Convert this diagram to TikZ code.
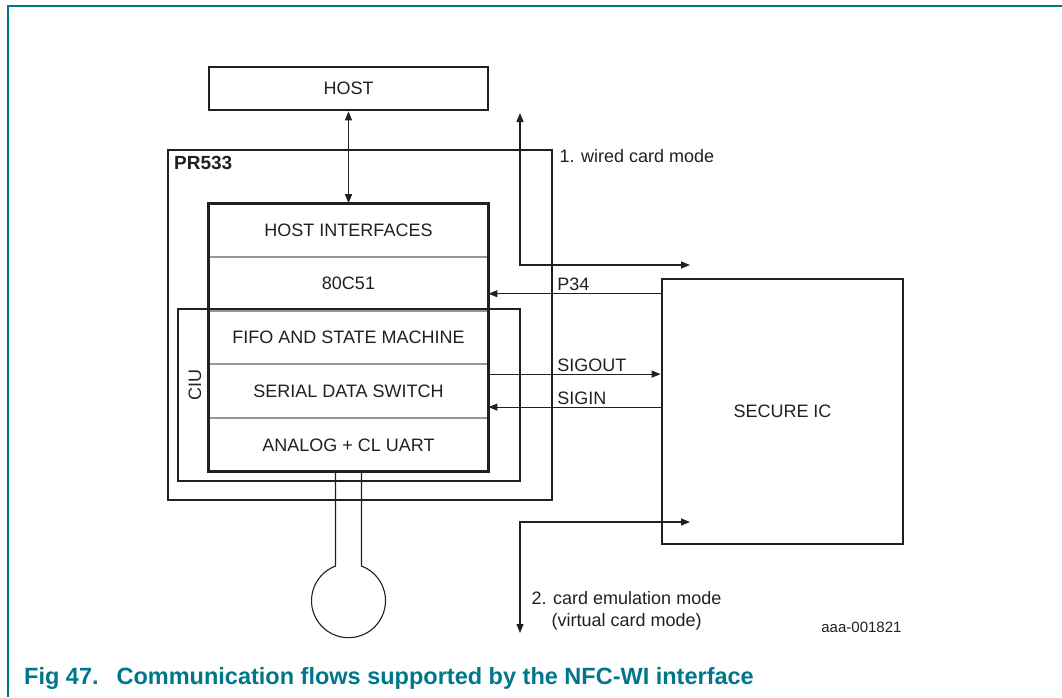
\documentclass[tikz,border=0pt]{standalone}
\usepackage{fontspec}
\setmainfont{Liberation Sans}
\usetikzlibrary{arrows.meta,positioning}
\definecolor{ink}{RGB}{35,31,32}
\definecolor{nxpteal}{RGB}{0,118,139}
\definecolor{divider}{RGB}{150,150,150}

\begin{document}
\begin{tikzpicture}[x=1pt,y=1pt,>={Triangle[length=9pt,width=7pt]},
    every node/.style={font=\fontsize{18}{22}\selectfont, text=ink},
    frame/.style={rectangle, draw=ink, line width=2.8pt, inner sep=0pt},
    row/.style={rectangle, draw=divider, line width=0.9pt, minimum width=279pt, minimum height=52.8pt, inner sep=0pt},
    wire/.style={draw=ink, line width=1.1pt},
    arrow/.style={wire, ->},
    both/.style={wire, <->}]

    \useasboundingbox (0,0) rectangle (1062,-697);

    % Page frame
    \draw[nxpteal, line width=1.6pt] (8,-697) -- (8,-6) -- (1062,-6);

    % Host
    \node[frame, minimum width=279pt, minimum height=43pt] (host) at (348.5,-88.5) {HOST};

    % PR533
    \node[frame, minimum width=384pt, minimum height=350pt] (pr) at (360,-325) {};
    \node[anchor=north west, font=\fontsize{19}{22}\selectfont\bfseries] (prlabel) at ([xshift=4pt,yshift=-4pt]pr.north west) {PR533};

    % Block stack
    \node[row] (hostif) at (348.5,-230) {HOST INTERFACES};
    \node[row, below=0pt of hostif] (mcu) {80C51};
    \node[row, below=0pt of mcu] (fifo) {FIFO AND STATE MACHINE};
    \node[row, below=0pt of fifo] (serial) {SERIAL DATA SWITCH};
    \node[row, below=0pt of serial] (analog) {ANALOG + CL UART};
    \draw[frame] (hostif.north west) rectangle (analog.south east);

    % CIU
    \node[frame, minimum width=342pt, minimum height=172pt] (ciu) at (349,-395) {};
    \node[rotate=90] (ciulabel) at (195,-385) {CIU};

    % Secure IC
    \node[frame, minimum width=241pt, minimum height=265pt] (secure) at (782.5,-411.5) {SECURE IC};

    % Host link
    \draw[both] (host) -- (hostif);

    % Wired card mode
    \coordinate (wiredtop) at (520,-113);
    \coordinate (wiredend) at (690,-265);
    \draw[both] (wiredtop) |- (wiredend);
    \node[anchor=west] (wiredlabel) at (556,-156) {1. wired card mode};

    % Signals
    \draw[arrow] ([yshift=-10pt]mcu.east -| secure.west) -- ([yshift=-10pt]mcu.east)
        node[pos=0.615, anchor=south west, inner sep=2pt] {P34};
    \draw[arrow] ([yshift=17pt]serial.east) -- ([yshift=17pt]serial.east -| secure.west)
        node[pos=0.385, anchor=south west, inner sep=2pt] {SIGOUT};
    \draw[arrow] ([yshift=-16pt]serial.east -| secure.west) -- ([yshift=-16pt]serial.east)
        node[pos=0.615, anchor=south west, inner sep=2pt] {SIGIN};

    % Card emulation mode
    \coordinate (emuend) at (690,-522);
    \coordinate (emubottom) at (520,-633);
    \draw[both] (emuend) -| (emubottom);
    \node[anchor=north west, align=left] (emulabel) at (528,-588) {2. card emulation mode\\\hphantom{2.~}(virtual card mode)};
    \node[anchor=east, font=\fontsize{15}{16}\selectfont] (figid) at (905,-627) {aaa-001821};

    % Antenna
    \draw[wire] ([xshift=-13pt]analog.south) -- ++(0,-94.4)
        arc[start angle=110.6, end angle=429.4, radius=37] -- ([xshift=13pt]analog.south);

    % Caption
    \node[anchor=base west, inner sep=0pt, font=\fontsize{23.5}{26}\selectfont\bfseries, text=nxpteal] (caption) at (24,-684)
        {Fig 47.\hspace{18pt}Communication flows supported by the NFC-WI interface};

\end{tikzpicture}
\end{document}
